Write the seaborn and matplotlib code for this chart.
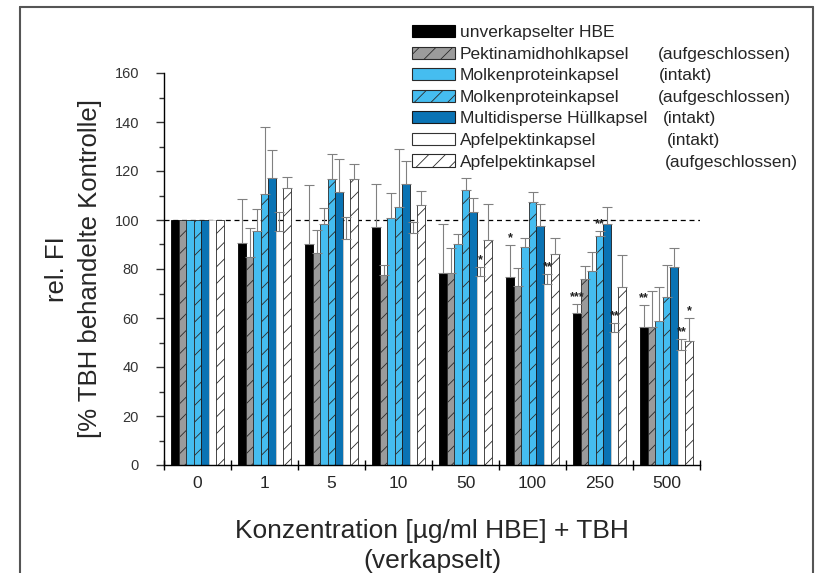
import numpy as np
import pandas as pd
import matplotlib
matplotlib.use("Agg")
import matplotlib.pyplot as plt
from matplotlib.patches import Patch
from matplotlib.lines import Line2D
import seaborn as sns

# Concentrations (x categories)
concentrations = ["0", "1", "5", "10", "50", "100", "250", "500"]

# Series names and the qualifier shown in the second legend column
series_names = [
    "unverkapselter HBE",
    "Pektinamidhohlkapsel",
    "Molkenproteinkapsel",
    "Molkenproteinkapsel ",
    "Multidisperse Hüllkapsel",
    "Apfelpektinkapsel",
    "Apfelpektinkapsel ",
]
series_state = ["", "(aufgeschlossen)", "(intakt)", "(aufgeschlossen)",
                "(intakt)", "(intakt)", "(aufgeschlossen)"]

# Mean relative fluorescence (% of TBH-treated control)
hbe_free = [100, 90.8, 90.1, 97.2, 78.2, 76.8, 62.1, 56.2]
pektinamid_open = [100, 85.0, 86.5, 77.6, 78.2, 72.9, 76.1, 56.2]
molken_intact = [100, 95.5, 98.2, 101.0, 90.1, 88.8, 79.3, 58.7]
molken_open = [100, 110.8, 116.8, 105.3, 112.2, 107.4, 93.5, 68.7]
multidisperse_intact = [100, 117.2, 111.5, 114.8, 103.4, 97.6, 98.5, 81.0]
apfel_intact = [100, 95.5, 92.1, 94.5, 77.2, 73.9, 54.2, 47.0]
apfel_open = [100, 113.1, 116.8, 106.1, 91.9, 86.3, 72.5, 50.5]

# Standard deviations (upper error bars)
hbe_free_sd = [0, 17.6, 24.1, 17.6, 20.0, 12.9, 3.6, 9.2]
pektinamid_open_sd = [0, 11.6, 9.3, 3.9, 10.3, 7.7, 5.2, 14.9]
molken_intact_sd = [0, 8.8, 6.8, 10.1, 4.3, 3.8, 7.7, 14.1]
molken_open_sd = [0, 27.2, 10.2, 23.7, 5.0, 4.1, 2.0, 12.9]
multidisperse_intact_sd = [0, 11.4, 13.5, 9.2, 5.6, 8.8, 6.9, 7.5]
apfel_intact_sd = [0, 7.9, 9.2, 4.5, 3.8, 4.1, 3.8, 4.5]
apfel_open_sd = [0, 4.4, 5.9, 5.7, 14.5, 6.3, 13.1, 9.4]

# Significance markers: (series index, concentration index, label)
significance = [
    (5, 4, "*"),
    (0, 5, "*"), (5, 5, "**"),
    (0, 6, "***"), (3, 6, "**"), (5, 6, "**"),
    (0, 7, "**"), (5, 7, "**"), (6, 7, "*"),
]

means = [hbe_free, pektinamid_open, molken_intact, molken_open,
         multidisperse_intact, apfel_intact, apfel_open]
sds = [hbe_free_sd, pektinamid_open_sd, molken_intact_sd, molken_open_sd,
       multidisperse_intact_sd, apfel_intact_sd, apfel_open_sd]

# Styles per series
face_colors = ["#000000", "#9b9b9b", "#45bdf0", "#45bdf0", "#0a73b4",
               "#ffffff", "#ffffff"]
edge_colors = ["#000000", "#2a2a2a", "#2a2a2a", "#2a2a2a", "#1a1a1a",
               "#d0d0d0", "#2a2a2a"]
hatches = [None, "//", None, "//", None, None, "//"]

rows = []
for name, vals in zip(series_names, means):
    for c, v in zip(concentrations, vals):
        rows.append({"Konzentration": c, "Serie": name, "Wert": v})
df = pd.DataFrame(rows)

sns.set_style("ticks")
plt.rcParams["font.family"] = ["Liberation Sans", "DejaVu Sans"]
plt.rcParams["hatch.linewidth"] = 0.6

W, H = 816, 573
fig = plt.figure(figsize=(W / 100, H / 100), dpi=100)
ax = fig.add_axes([164 / W, 1 - 465 / H, (700 - 164) / W, (465 - 73) / H])

sns.barplot(data=df, x="Konzentration", y="Wert", hue="Serie",
            order=concentrations, hue_order=series_names,
            palette=face_colors, width=0.78, errorbar=None,
            ax=ax, legend=False, saturation=1)

bar_containers = list(ax.containers)
for i, cont in enumerate(bar_containers):
    xs, tops = [], []
    for bar in cont:
        bar.set_facecolor(face_colors[i])
        bar.set_edgecolor(edge_colors[i])
        bar.set_linewidth(0.6)
        if hatches[i]:
            bar.set_hatch(hatches[i])
        xs.append(bar.get_x() + bar.get_width() / 2)
        tops.append(bar.get_height())
    xs = np.array(xs)
    tops = np.array(tops)
    sd = np.array(sds[i])
    m = sd > 0
    ax.errorbar(xs[m], tops[m], yerr=[np.zeros(m.sum()), sd[m]], fmt="none",
                ecolor="#808080", elinewidth=0.8, capsize=3.5, capthick=0.8,
                zorder=1)

# Significance stars above the error bars
for si, ci, lab in significance:
    bar = bar_containers[si][ci]
    xc = bar.get_x() + bar.get_width() / 2
    yt = bar.get_height() + sds[si][ci]
    ax.text(xc, yt + 0.3, lab, ha="center", va="bottom", fontsize=9,
            fontweight="bold", color="#222222")

ax.axhline(100, color="black", lw=0.9, ls=(0, (4, 3)), zorder=0.5)

ax.set_xlim(-0.5, 7.5)
ax.set_ylim(0, 160)
ax.set_xticks(range(len(concentrations)))
ax.set_xticklabels(concentrations, fontsize=12.5)
ax.set_xticks(np.arange(-0.5, 8, 1), minor=True)
ax.tick_params(axis="x", which="major", length=0, pad=8)
ax.tick_params(axis="x", which="minor", length=7, direction="inout",
               width=1, color="black")
ax.set_yticks(np.arange(0, 161, 20))
ax.set_yticks(np.arange(0, 161, 10), minor=True)
ax.tick_params(axis="y", which="major", length=6, width=1, labelsize=10.5,
               pad=12, color="#333333", labelcolor="#333333")
ax.tick_params(axis="y", which="minor", length=3.5, width=1, color="#333333")
for s in ["top", "right"]:
    ax.spines[s].set_visible(False)
for s in ["left", "bottom"]:
    ax.spines[s].set_linewidth(1.0)
    ax.spines[s].set_color("black")

ax.set_xlabel("Konzentration [µg/ml HBE] + TBH\n(verkapselt)", fontsize=19,
              labelpad=20, linespacing=1.3)
ax.set_ylabel("rel. FI\n[% TBH behandelte Kontrolle]", fontsize=18.5,
              labelpad=9, linespacing=1.45)

handles = [Patch(facecolor=face_colors[i], edgecolor=edge_colors[i] if i != 5 else "#333333",
                 hatch=hatches[i], linewidth=0.8) for i in range(len(series_names))]
leg = fig.legend(handles, [n.strip() for n in series_names], loc="upper left",
                 bbox_to_anchor=(412 / W, 1 - 25 / H), frameon=False,
                 fontsize=12.5, handlelength=2.45, handleheight=0.7,
                 handletextpad=0.3, labelspacing=0.37, borderpad=0,
                 borderaxespad=0)

# Second legend column with the capsule state
fig.canvas.draw()
state_x = [None, 658, 659, 658, 663, 667, 665]
for txt, st, sx in zip(leg.get_texts(), series_state, state_x):
    if not st:
        continue
    bb = txt.get_window_extent()
    yc = (bb.y0 + bb.y1) / 2
    fig.text(sx / W, yc / H, st, fontsize=12.5, va="center", ha="left")

# Thin frame around the figure
frame_kw = dict(color="#555555", lw=1.5, transform=fig.transFigure)
fig.add_artist(Line2D([20 / W, 813 / W], [1 - 7 / H, 1 - 7 / H], **frame_kw))
fig.add_artist(Line2D([20 / W, 20 / W], [1 - 7 / H, 0], **frame_kw))
fig.add_artist(Line2D([813 / W, 813 / W], [1 - 7 / H, 0], **frame_kw))

fig.savefig("out.png", dpi=100)
